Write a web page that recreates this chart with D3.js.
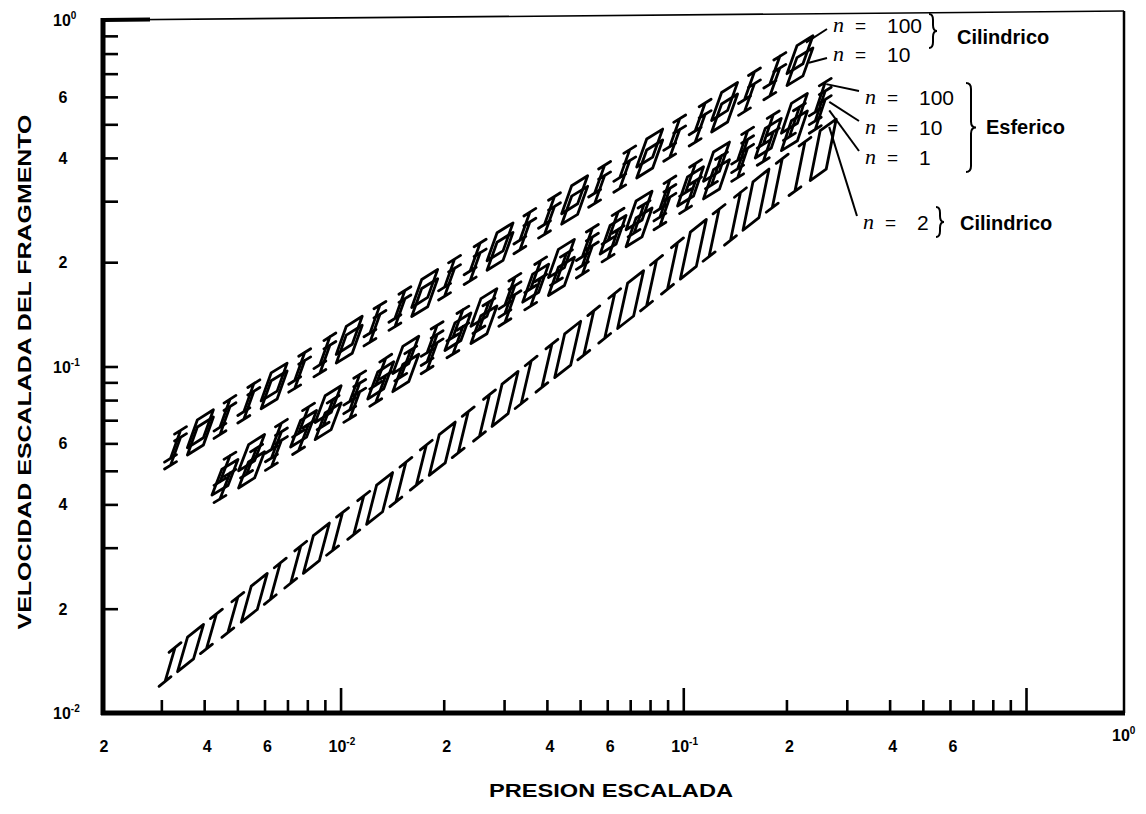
<!DOCTYPE html>
<html>
<head>
<meta charset="utf-8">
<script src="https://cdn.jsdelivr.net/npm/d3@7"></script>
<style>
  body { margin: 0; background: #fff; }
  text { font-family: "Liberation Sans", Arial, Helvetica, sans-serif; font-weight: bold; fill: #000; }
</style>
</head>
<body>
<svg id="chart"></svg>
<script>
// ---- data ----
// cylindrical vessels, n = 100 and n = 10 (upper band)
const pCil = [0.0033, 0.0039, 0.0046, 0.0054, 0.0064, 0.0076, 0.009, 0.0106, 0.0126, 0.0149, 0.0176, 0.0208, 0.0247,
              0.0292, 0.0345, 0.0407, 0.0482, 0.057, 0.0675, 0.0798, 0.0944, 0.112, 0.132, 0.156, 0.185, 0.219];
const vCil100 = [0.0596, 0.0661, 0.0733, 0.0813, 0.0902, 0.100, 0.111, 0.123, 0.137, 0.151, 0.168, 0.186, 0.207,
                 0.229, 0.254, 0.282, 0.313, 0.347, 0.385, 0.427, 0.473, 0.525, 0.582, 0.646, 0.716, 0.794];
const vCil10 = [0.0569, 0.0630, 0.0698, 0.0773, 0.0856, 0.0948, 0.105, 0.116, 0.129, 0.143, 0.158, 0.175, 0.194,
                0.215, 0.238, 0.264, 0.292, 0.324, 0.358, 0.397, 0.440, 0.487, 0.539, 0.597, 0.662, 0.733];

// spherical vessels, n = 100, 10, 1 (middle band)
const pEsf = [0.0046, 0.0055, 0.0065, 0.0078, 0.0092, 0.011, 0.0131, 0.0155, 0.0185, 0.022, 0.0262, 0.0312,
              0.0371, 0.0441, 0.0525, 0.0624, 0.0743, 0.0884, 0.105, 0.125, 0.149, 0.177, 0.211, 0.251];
const vEsf100 = [0.0507, 0.0564, 0.0629, 0.0700, 0.0779, 0.0867, 0.0966, 0.108, 0.120, 0.133, 0.148, 0.165,
                 0.184, 0.205, 0.228, 0.254, 0.282, 0.314, 0.350, 0.390, 0.434, 0.483, 0.538, 0.599];
const vEsf10 = [0.0479, 0.0533, 0.0594, 0.0661, 0.0736, 0.0819, 0.0912, 0.102, 0.113, 0.126, 0.140, 0.156,
                0.174, 0.193, 0.215, 0.240, 0.267, 0.297, 0.331, 0.368, 0.410, 0.456, 0.508, 0.565];
const vEsf1 = [0.0452, 0.0503, 0.0561, 0.0624, 0.0695, 0.0773, 0.0861, 0.0958, 0.107, 0.119, 0.132, 0.147,
               0.164, 0.182, 0.203, 0.226, 0.252, 0.280, 0.312, 0.347, 0.387, 0.431, 0.479, 0.534];

// cylindrical vessel, n = 2 (lower band)
const pCil2 = [0.00318, 0.00365, 0.0042, 0.00485, 0.0056, 0.00645, 0.0074, 0.0085, 0.0098, 0.0113, 0.013, 0.015,
               0.0172, 0.0198, 0.0228, 0.0263, 0.0302, 0.0348, 0.04, 0.046, 0.053, 0.061, 0.0702, 0.0808,
               0.093, 0.107, 0.123, 0.142, 0.163, 0.188, 0.219, 0.256];
const vCil2 = [0.0138, 0.0154, 0.0172, 0.0192, 0.0215, 0.0240, 0.0268, 0.0299, 0.0334, 0.0372, 0.0416, 0.0464,
               0.0519, 0.0579, 0.0646, 0.0722, 0.0806, 0.0900, 0.1005, 0.112, 0.125, 0.140, 0.156, 0.174,
               0.195, 0.218, 0.243, 0.271, 0.303, 0.338, 0.378, 0.422];

const xTickValues = [0.002, 0.004, 0.006, 0.01, 0.02, 0.04, 0.06, 0.1, 0.2, 0.4, 0.6];
const xTickLabels = ["2", "4", "6", "10^-2", "2", "4", "6", "10^-1", "2", "4", "6"];
const yTickValues = [1, 0.6, 0.4, 0.2, 0.1, 0.06, 0.04, 0.02, 0.01];
const yTickLabels = ["10^0", "6", "4", "2", "10^-1", "6", "4", "2", "10^-2"];

// ---- setup ----
const width = 1146, height = 814;
const svg = d3.select("#chart").attr("width", width).attr("height", height);

const x = d3.scaleLog().domain([0.002, 1]).range([101, 1026]);
const y = d3.scaleLog().domain([0.01, 1]).range([713, 20]);
const frameRight = 1124;
const isDecade = d => Math.abs(Math.log10(d) - Math.round(Math.log10(d))) < 1e-6;

// frame
svg.append("line").attr("x1", 103).attr("y1", y(1)).attr("x2", frameRight).attr("y2", 11)
  .attr("stroke", "#000").attr("stroke-width", 1.6);
svg.append("line").attr("x1", 103).attr("y1", y(1)).attr("x2", 150).attr("y2", y(1) - 0.5)
  .attr("stroke", "#000").attr("stroke-width", 4);
svg.append("line").attr("x1", frameRight).attr("y1", 11).attr("x2", frameRight).attr("y2", y(0.01))
  .attr("stroke", "#000").attr("stroke-width", 2.5);

// axes: ticks drawn inward
const gx = svg.append("g").attr("transform", `translate(0,${y(0.01)})`)
  .call(d3.axisBottom(x).tickValues(x.ticks().filter(d => d > 0.002)).tickSizeInner(-13).tickSizeOuter(0).tickFormat(""));
gx.select(".domain").remove();
gx.selectAll(".tick line").attr("y2", d => isDecade(d) ? -25 : -13).attr("stroke-width", 2.6);

const gy = svg.append("g").attr("transform", "translate(103,0)")
  .call(d3.axisLeft(y).tickValues(y.ticks().filter(d => d > 0.01 && d < 1)).tickSizeInner(-15).tickSizeOuter(0).tickFormat(""));
gy.select(".domain").remove();
gy.selectAll(".tick line").attr("stroke-width", 2.6);

svg.append("line").attr("x1", 101).attr("y1", y(0.01)).attr("x2", frameRight + 1).attr("y2", y(0.01))
  .attr("stroke", "#000").attr("stroke-width", 5);
svg.append("line").attr("x1", 103).attr("y1", y(1) - 2).attr("x2", 103).attr("y2", y(0.01) + 2)
  .attr("stroke", "#000").attr("stroke-width", 5);

// tick labels, "10^-2" style gets a raised exponent
function tickLabel(sel, label) {
  const parts = label.split("^");
  sel.append("tspan").text(parts[0]);
  if (parts[1]) sel.append("tspan").attr("dy", -7).style("font-size", "10px").text(parts[1]);
}

xTickValues.forEach((v, i) => {
  const lab = xTickLabels[i];
  const t = svg.append("text").attr("y", 752).style("font-size", "16px");
  if (lab.includes("^")) t.attr("x", x(v) - 12).attr("text-anchor", "start");
  else t.attr("x", x(v) + 3).attr("text-anchor", "middle");
  tickLabel(t, lab);
});
tickLabel(svg.append("text").attr("x", 1112).attr("y", 741).style("font-size", "16px"), "10^0");

yTickValues.forEach((v, i) => {
  const lab = yTickLabels[i];
  const t = svg.append("text").attr("y", y(v) + 6).style("font-size", "16px");
  if (lab.includes("^")) t.attr("x", 53).attr("text-anchor", "start");
  else t.attr("x", 63).attr("text-anchor", "middle");
  tickLabel(t, lab);
});

// axis titles
svg.append("text").attr("x", 611).attr("y", 797).attr("text-anchor", "middle")
  .attr("textLength", 244).attr("lengthAdjust", "spacingAndGlyphs")
  .style("font-size", "18px").text("PRESION ESCALADA");
svg.append("text").attr("transform", "translate(31,372) rotate(-90)").attr("text-anchor", "middle")
  .attr("textLength", 515).attr("lengthAdjust", "spacingAndGlyphs")
  .style("font-size", "19px").text("VELOCIDAD ESCALADA DEL FRAGMENTO");

// ---- bands: "I" bars and slanted boxes along each curve ----
const series = [
  { p: pCil, v: vCil100, half: 14, grow: 0, phase: 0 },
  { p: pCil, v: vCil10, half: 14, grow: 0, phase: 0 },
  { p: pEsf, v: vEsf100, half: 13, grow: 2, phase: 0 },
  { p: pEsf, v: vEsf10, half: 13, grow: 2, phase: 1 },
  { p: pEsf, v: vEsf1, half: 13, grow: 2, phase: 0 },
  { p: pCil2, v: vCil2, half: 17, grow: 8, phase: 0 }
];

const bands = svg.append("g").attr("fill", "none").attr("stroke", "#000")
  .attr("stroke-width", 2.8).attr("stroke-linecap", "round").attr("stroke-linejoin", "round");

series.forEach(s => {
  const pts = s.p.map((p, i) => [x(p), y(s.v[i])]);
  const n = pts.length;
  pts.forEach((pt, i) => {
    const a = pts[Math.max(0, i - 1)], b = pts[Math.min(n - 1, i + 1)];
    const m = (b[1] - a[1]) / (b[0] - a[0]);
    const [cx, cy] = pt;
    const lean = 5, h = s.half + s.grow * i / (n - 1);
    const tx = cx + lean, ty = cy - h, bx = cx - lean, by = cy + h;
    if ((i + s.phase) % 3 !== 1) {
      const sw = 6;
      const d = `M${bx},${by}L${tx},${ty}` +
        `M${tx - sw},${ty - sw * m}L${tx + sw},${ty + sw * m}` +
        `M${bx - sw},${by - sw * m}L${bx + sw},${by + sw * m}`;
      bands.append("path").attr("d", d);
    } else {
      const w = 8;
      const d = `M${tx - w},${ty - w * m}L${tx + w},${ty + w * m}` +
        `L${bx + w},${by + w * m}L${bx - w},${by - w * m}Z`;
      bands.append("path").attr("d", d);
    }
  });
});

// ---- legend with leader lines ----
const legendRows = [
  { s: 0, n: "100", lx: 833, ly: 25, from: "top" },
  { s: 1, n: "10", lx: 833, ly: 54, from: "mid" },
  { s: 2, n: "100", lx: 865, ly: 97, from: "top" },
  { s: 3, n: "10", lx: 865, ly: 127, from: "mid" },
  { s: 4, n: "1", lx: 865, ly: 157, from: "mid" },
  { s: 5, n: "2", lx: 863, ly: 222, from: "top" }
];

legendRows.forEach(r => {
  const s = series[r.s];
  const last = s.p.length - 1;
  const ex = x(s.p[last]), ey = y(s.v[last]);
  const hEnd = s.half + s.grow;
  const sx = r.from === "top" ? ex + 6 : ex + 9;
  const sy = r.from === "top" ? ey - hEnd + 2 : ey - 4;
  svg.append("line").attr("x1", sx).attr("y1", sy).attr("x2", r.lx - 6).attr("y2", r.ly + (r.ly < 60 ? 4 : -6))
    .attr("stroke", "#000").attr("stroke-width", 2);
  svg.append("text").attr("x", r.lx).attr("y", r.ly + 7)
    .style("font-family", "'Liberation Serif', serif").style("font-style", "italic").style("font-weight", "normal")
    .style("font-size", "22px").text("n");
  svg.append("text").attr("x", r.lx + 22).attr("y", r.ly + 7).style("font-size", "19px").style("font-weight", "normal").text("=");
  svg.append("text").attr("x", r.lx + 54).attr("y", r.ly + 8).style("font-size", "21px").style("font-weight", "normal").text(r.n);
});

function brace(x0, y0, y1, w) {
  const ym = (y0 + y1) / 2, r = Math.min(6, (y1 - y0) / 4);
  return `M${x0},${y0}Q${x0 + w},${y0} ${x0 + w},${y0 + r}L${x0 + w},${ym - r}Q${x0 + w},${ym} ${x0 + 2 * w},${ym}` +
    `Q${x0 + w},${ym} ${x0 + w},${ym + r}L${x0 + w},${y1 - r}Q${x0 + w},${y1} ${x0},${y1}`;
}
const braces = svg.append("g").attr("fill", "none").attr("stroke", "#000").attr("stroke-width", 2);
braces.append("path").attr("d", brace(929, 14, 48, 4));
braces.append("path").attr("d", brace(966, 83, 172, 5));
braces.append("path").attr("d", brace(936, 207, 237, 4));

svg.append("text").attr("x", 957).attr("y", 44).style("font-size", "20px").text("Cilindrico");
svg.append("text").attr("x", 986).attr("y", 134).style("font-size", "20px").text("Esferico");
svg.append("text").attr("x", 960).attr("y", 230).style("font-size", "20px").text("Cilindrico");
</script>
</body>
</html>
